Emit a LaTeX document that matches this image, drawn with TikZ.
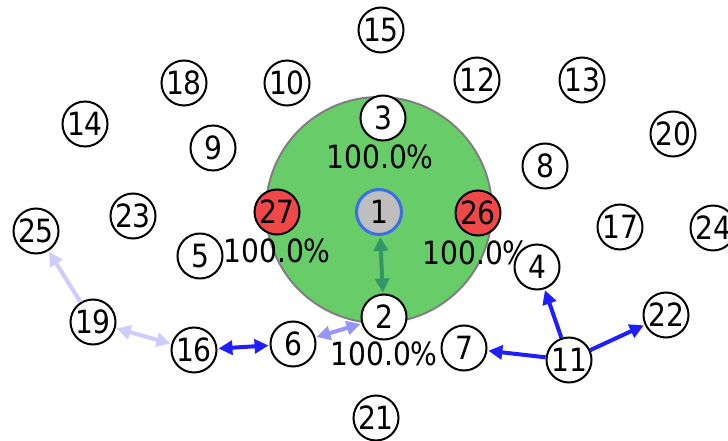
\documentclass[tikz,border=0pt]{standalone}
\usepackage{fontspec}
\setmainfont{DejaVu Sans}
\newfontfamily\numfont[FakeStretch=0.88]{DejaVu Sans}
\usetikzlibrary{arrows.meta}
\definecolor{groupgreen}{RGB}{104,204,104}
\definecolor{groupedge}{RGB}{128,128,128}
\definecolor{nodered}{RGB}{240,72,72}
\definecolor{centergray}{RGB}{190,190,190}
\definecolor{centerblue}{RGB}{60,110,230}
\definecolor{linkgreen}{RGB}{50,150,105}
\definecolor{linkblue}{RGB}{30,30,255}
\definecolor{linkmid}{RGB}{150,150,255}
\definecolor{linklight}{RGB}{204,204,255}
\tikzset{
  vtx/.style={circle,draw=black,line width=2pt,fill=white,minimum size=45pt,inner sep=0pt,font=\numfont\fontsize{32}{33}\selectfont},
  hot/.style={vtx,fill=nodered},
  hub/.style={vtx,fill=centergray,draw=centerblue,line width=3pt},
  pct/.style={font=\numfont\fontsize{32}{33}\selectfont,inner sep=0pt},
  lnk/.style={line width=4pt,-{Triangle[length=14pt,width=14pt]},shorten >=1pt},
  dlnk/.style={line width=4pt,{Triangle[length=14pt,width=14pt]}-{Triangle[length=14pt,width=14pt]},shorten >=1pt,shorten <=1pt}
}
\begin{document}
\begin{tikzpicture}[x=1pt,y=-1pt]
\useasboundingbox (0,0) rectangle (728,441);
% group disc
\draw[fill=groupgreen,draw=groupedge,line width=2pt] (379,210) circle (113);
% labels behind nodes
\node[pct] (p3) at (380,157) {100.0\%};
\node[pct] (p27) at (277,251) {100.0\%};
\node[pct] (p26) at (476,253) {100.0\%};
\node[pct] (p2) at (384,354) {100.0\%};
% nodes
\node[vtx] (n15) at (381,30) {15};
\node[vtx] (n18) at (184,83) {18};
\node[vtx] (n10) at (287,83) {10};
\node[vtx] (n12) at (477,80) {12};
\node[vtx] (n13) at (582,80) {13};
\node[vtx] (n14) at (85,124) {14};
\node[vtx] (n3) at (383,118) {3};
\node[vtx] (n9) at (213,148) {9};
\node[vtx] (n20) at (673,134) {20};
\node[vtx] (n8) at (545,166) {8};
\node[hot] (n27) at (277,212) {27};
\node[hub] (n1) at (379,212) {1};
\node[hot] (n26) at (478,213) {26};
\node[vtx] (n23) at (133,216) {23};
\node[vtx] (n17) at (620,227) {17};
\node[vtx] (n24) at (713,228) {24};
\node[vtx] (n25) at (36,231) {25};
\node[vtx] (n5) at (200,256) {5};
\node[vtx] (n4) at (537,267) {4};
\node[vtx] (n2) at (384,317) {2};
\node[vtx] (n22) at (666,315) {22};
\node[vtx] (n19) at (93,322) {19};
\node[vtx] (n16) at (194,350) {16};
\node[vtx] (n6) at (293,344) {6};
\node[vtx] (n7) at (464,348) {7};
\node[vtx] (n11) at (569,360) {11};
\node[vtx] (n21) at (376,418) {21};
% links
\draw[dlnk,draw=linkgreen] (n1) -- (n2);
\draw[dlnk,draw=linkblue] (n16) -- (n6);
\draw[dlnk,draw=linkmid] (n6) -- (n2);
\draw[dlnk,draw=linklight] (n19) -- (n16);
\draw[lnk,draw=linklight] (n19) -- (n25);
\draw[lnk,draw=linkblue] (n11) -- (n4);
\draw[lnk,draw=linkblue] (n11) -- (n22);
\draw[lnk,draw=linkblue] (n11) -- (n7);
\end{tikzpicture}
\end{document}
